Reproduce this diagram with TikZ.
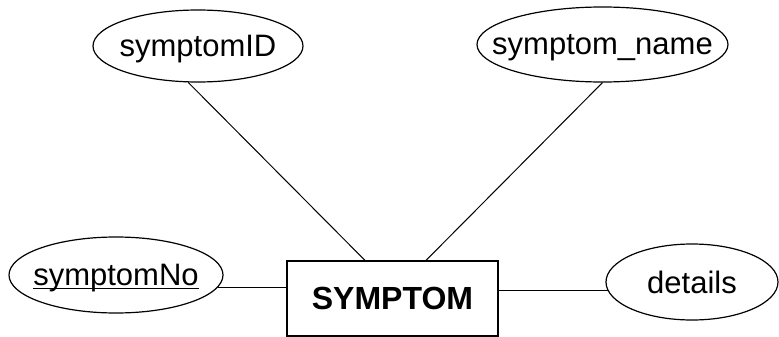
\documentclass[tikz,border=0pt]{standalone}
\usepackage{fontspec}
\setmainfont{Liberation Sans}
\usetikzlibrary{shapes.geometric,calc}
\newcommand\ulbox[1]{\setbox0\hbox{#1}\rlap{\rule[-3.5pt]{\wd0}{1.4pt}}\box0}
\begin{document}
\begin{tikzpicture}[x=1pt,y=-1pt,
  attr/.style={ellipse, draw, line width=1.2pt, inner sep=0pt, text depth=0pt,
    font=\fontsize{31}{36}\selectfont},
  entbox/.style={rectangle, draw, line width=1.2pt, inner sep=0pt, text depth=0pt,
    font=\bfseries\fontsize{32}{38}\selectfont},
  conn/.style={line width=1pt}]
\useasboundingbox (0,0) rectangle (779,337);
\node[attr, minimum width=210pt, minimum height=72pt] (sid) at (198,46) {\makebox[0pt]{symptomID}};
\node[attr, minimum width=251pt, minimum height=75pt] (sname) at (602.5,44.5) {\makebox[0pt]{symptom\_name}};
\node[attr, minimum width=214pt, minimum height=76pt] (sno) at (116,275) {\makebox[0pt]{\ulbox{symptomNo}}};
\node[attr, minimum width=172pt, minimum height=76pt] (det) at (692,282) {\makebox[0pt]{details}};
\node[entbox, minimum width=211pt, minimum height=75pt] (ent) at (392.5,298.5) {SYMPTOM};
\draw[conn] (sid.255) -- ($(ent.north)+(-27.5,0)$);
\draw[conn] (sname.south) -- ($(ent.north)+(33.5,0)$);
\draw[conn] (sno.-7) -- (sno.-7 -| ent.west);
\draw[conn] (ent.east |- det.186) -- (det.186);
\end{tikzpicture}
\end{document}
